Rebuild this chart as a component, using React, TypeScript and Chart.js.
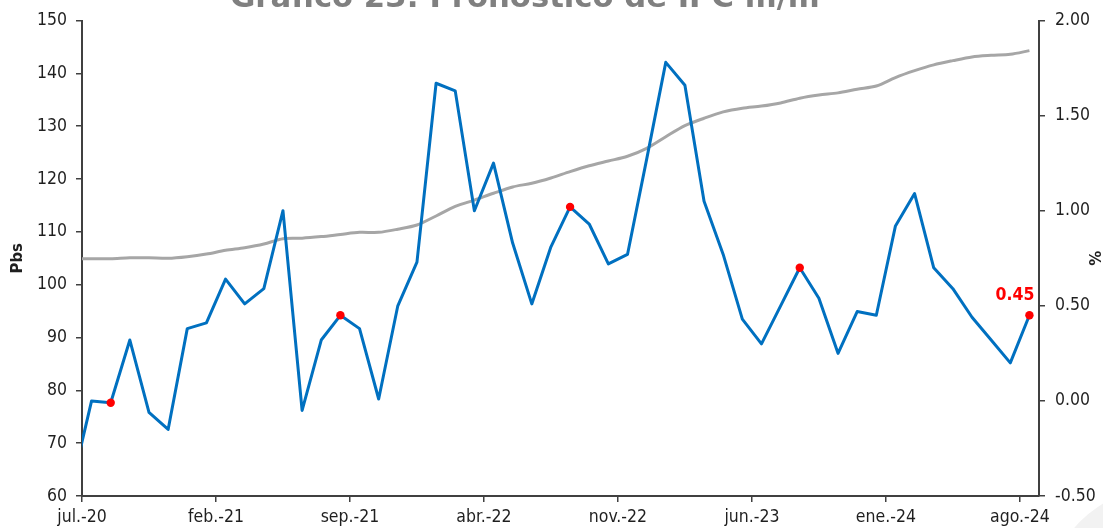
import { useEffect, useRef } from 'react';
import { Chart, registerables } from 'chart.js';

Chart.register(...registerables);

const TITLE = 'Gráfico 23: Pronóstico de IPC m/m';

const MONTH_ABBR = ['ene.', 'feb.', 'mar.', 'abr.', 'may.', 'jun.', 'jul.', 'ago.', 'sep.', 'oct.', 'nov.', 'dic.'];

// Monthly categories, jun.-20 through ago.-24
const months: string[] = [];
for (let y = 2020, m = 5; y < 2024 || (y === 2024 && m <= 7); ) {
  months.push(`${MONTH_ABBR[m]}-${String(y % 100).padStart(2, '0')}`);
  m += 1;
  if (m === 12) {
    m = 0;
    y += 1;
  }
}

// IPC m/m (%), right axis
const ipcMoM = [
  -0.43, 0.0, -0.01, 0.32, -0.06, -0.15, 0.38, 0.41, 0.64, 0.51,
  0.59, 1.0, -0.05, 0.32, 0.45, 0.38, 0.01, 0.5, 0.73, 1.67,
  1.63, 1.0, 1.25, 0.83, 0.51, 0.81, 1.02, 0.93, 0.72, 0.77,
  1.27, 1.78, 1.66, 1.05, 0.77, 0.43, 0.3, 0.5, 0.7, 0.54,
  0.25, 0.47, 0.45, 0.92, 1.09, 0.7, 0.59, 0.44, 0.32, 0.2,
  0.45,
];

// Series in Pbs, left axis
const pbsSeries = [
  104.9, 104.9, 104.9, 105.1, 105.1, 105.0, 105.3, 105.8, 106.5, 107.0,
  107.7, 108.7, 108.8, 109.1, 109.5, 109.9, 109.9, 110.5, 111.3, 113.0,
  114.8, 116.0, 117.3, 118.5, 119.2, 120.2, 121.4, 122.5, 123.4, 124.3,
  125.8, 128.0, 130.1, 131.5, 132.7, 133.4, 133.8, 134.4, 135.3, 135.9,
  136.3, 137.0, 137.6, 139.2, 140.5, 141.6, 142.4, 143.1, 143.4, 143.6,
  144.3,
];

// Months marked with a red dot
const highlighted = ['ago.-20', 'ago.-21', 'ago.-22', 'ago.-23', 'ago.-24'];

// Labelled ticks on the time axis (placed at the start of each month)
const tickLabels = ['jul.-20', 'feb.-21', 'sep.-21', 'abr.-22', 'nov.-22', 'jun.-23', 'ene.-24', 'ago.-24'];

const FONT = '"DejaVu Sans Condensed", "DejaVu Sans", sans-serif';
const AXIS_COLOR = '#404040';
const TEXT_COLOR = '#1f1f1f';

// month index i starts at x = i - 1 and its point sits mid-month
const monthStart = (label: string) => months.indexOf(label) - 1;

const decorations = {
  id: 'decorations',
  beforeDraw(chart: Chart) {
    const { ctx } = chart;
    ctx.save();
    ctx.fillStyle = '#f2f2f2';
    ctx.beginPath();
    ctx.arc(1160, 600, 112, 0, Math.PI * 2);
    ctx.fill();
    ctx.restore();
  },
  afterDraw(chart: Chart) {
    const { ctx } = chart;
    ctx.save();
    // chart title
    let size = 26;
    ctx.font = `bold ${size}px "DejaVu Sans", sans-serif`;
    const w = ctx.measureText(TITLE).width;
    size = (size * 590) / w;
    ctx.font = `bold ${size}px "DejaVu Sans", sans-serif`;
    ctx.fillStyle = '#808080';
    ctx.textAlign = 'center';
    ctx.textBaseline = 'alphabetic';
    ctx.fillText(TITLE, 525, 6.5);

    // value label on the latest point
    const meta = chart.getDatasetMeta(0);
    const idx = meta.data.length - 1;
    const pt = meta.data[idx];
    ctx.font = `bold 17.5px ${FONT}`;
    ctx.fillStyle = '#FF0000';
    ctx.textAlign = 'right';
    ctx.fillText(ipcMoM[idx].toFixed(2), pt.x + 5, pt.y - 15);
    ctx.restore();
  },
};

export default function App() {
  const ref = useRef<HTMLCanvasElement | null>(null);

  useEffect(() => {
    if (!ref.current) return;
    const tickFont = { family: FONT, size: 17.5 };
    const titleFont = { family: FONT, size: 16.5, weight: 'bold' as const };
    const grid = {
      display: true,
      drawOnChartArea: false,
      drawTicks: true,
      tickLength: 6,
      color: AXIS_COLOR,
      lineWidth: 1.5,
    };
    const border = { display: true, color: AXIS_COLOR, width: 2 };

    const chart = new Chart(ref.current, {
      type: 'line',
      data: {
        datasets: [
          {
            label: 'IPC m/m',
            yAxisID: 'y1',
            data: months.map((_, i) => ({ x: i - 0.5, y: ipcMoM[i] })),
            borderColor: '#0070C0',
            borderWidth: 3,
            borderJoinStyle: 'round',
            tension: 0,
            pointRadius: months.map((m) => (highlighted.includes(m) ? 4.2 : 0)),
            pointBackgroundColor: '#FF0000',
            pointBorderWidth: 0,
            pointHoverRadius: 0,
          },
          {
            label: 'Pbs',
            yAxisID: 'y',
            data: months.map((_, i) => ({ x: i - 0.5, y: pbsSeries[i] })),
            borderColor: '#A6A6A6',
            borderWidth: 3,
            tension: 0.3,
            pointRadius: 0,
            pointHoverRadius: 0,
          },
        ],
      },
      options: {
        responsive: false,
        maintainAspectRatio: false,
        animation: false,
        devicePixelRatio: 1,
        layout: { padding: { top: 20, left: 0, right: 0, bottom: 0 } },
        plugins: {
          legend: { display: false },
          tooltip: { enabled: false },
          title: { display: false },
        },
        scales: {
          x: {
            type: 'linear',
            min: 0,
            max: 50,
            afterBuildTicks: (axis: any) => {
              axis.ticks = tickLabels.map((l) => ({ value: monthStart(l) }));
            },
            afterFit: (s: any) => {
              s.height = 32;
            },
            ticks: {
              autoSkip: false,
              maxRotation: 0,
              padding: 5,
              color: TEXT_COLOR,
              font: tickFont,
              callback: (v: any) => months[Number(v) + 1],
            },
            grid,
            border,
          },
          y: {
            position: 'left',
            min: 60,
            max: 150,
            afterFit: (s: any) => {
              s.width = 82;
            },
            ticks: { stepSize: 10, padding: 9, color: TEXT_COLOR, font: tickFont },
            title: {
              display: true,
              text: 'Pbs',
              color: TEXT_COLOR,
              font: titleFont,
              padding: { top: 8, bottom: 0 },
            },
            grid,
            border,
          },
          y1: {
            position: 'right',
            min: -0.5,
            max: 2,
            afterFit: (s: any) => {
              s.width = 73;
            },
            ticks: {
              stepSize: 0.5,
              padding: 10,
              color: TEXT_COLOR,
              font: tickFont,
              callback: (v: any) => Number(v).toFixed(2),
            },
            title: {
              display: true,
              text: '%',
              color: TEXT_COLOR,
              font: titleFont,
              padding: { top: 9, bottom: 0 },
            },
            grid,
            border,
          },
        },
      },
      plugins: [decorations],
    });
    return () => chart.destroy();
  }, []);

  return (
    <div
      style={{
        position: 'absolute',
        left: 0,
        top: 0,
        width: 1103,
        height: 528,
        overflow: 'hidden',
        background: '#ffffff',
      }}
    >
      <canvas ref={ref} width={1112} height={528} style={{ display: 'block', width: 1112, height: 528 }} />
    </div>
  );
}
